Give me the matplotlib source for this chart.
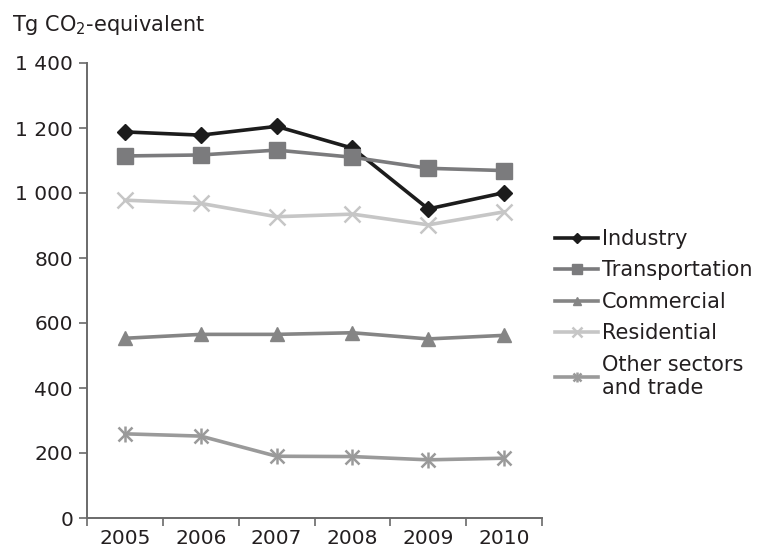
import matplotlib
matplotlib.use("Agg")
import matplotlib.pyplot as plt
import numpy as np

years = ["2005", "2006", "2007", "2008", "2009", "2010"]
industry = [1188, 1178, 1205, 1138, 951, 1001]
transportation = [1114, 1117, 1132, 1110, 1076, 1069]
commercial = [553, 565, 565, 570, 551, 562]
residential = [978, 968, 927, 935, 902, 942]
other = [259, 252, 190, 189, 179, 184]
yticks = [0, 200, 400, 600, 800, 1000, 1200, 1400]
ytick_labels = ["0", "200", "400", "600", "800", "1 000", "1 200", "1 400"]

text_color = "#231f20"
plt.rcParams["font.family"] = ["DejaVu Sans"]
plt.rcParams["mathtext.fontset"] = "dejavusans"

fig = plt.figure(figsize=(7.66, 5.49), dpi=100)
ax = fig.add_axes([87/766, 1-518/549, (542-87)/766, (518-63)/549])

x = np.arange(len(years)) + 0.5
series = [
    ("Industry", industry, "#1c1c1c", "D", 8, 1),
    ("Transportation", transportation, "#7b7b7d", "s", 11, 1),
    ("Commercial", commercial, "#858585", "^", 10, 1),
    ("Residential", residential, "#c6c6c6", "x", 11, 1.8),
    ("Other sectors\nand trade", other, "#9a9a9a", "x", 10, 1.8),
]
handles = []
labels = []
for name, vals, col, mk, ms, mew in series:
    h, = ax.plot(x, vals, color=col, lw=2.6, marker=mk, markersize=ms,
                 markerfacecolor=col, markeredgecolor=col, markeredgewidth=mew)
    if name.startswith("Other"):
        h2, = ax.plot(x, vals, linestyle="none", marker="|", markersize=12,
                      markeredgecolor=col, markeredgewidth=1.8)
        handles.append((h, h2))
    else:
        handles.append(h)
    labels.append(name)

ax.set_xlim(0, 6)
ax.set_ylim(0, 1400)
ax.set_yticks(yticks)
ax.set_yticklabels(ytick_labels)
ax.set_xticks(np.arange(0, 7))
ax.set_xticklabels([])
ax.set_xticks(x, minor=True)
ax.set_xticklabels(years, minor=True)
ax.tick_params(axis="x", which="minor", length=0, pad=8, labelsize=14.5, labelcolor=text_color)
ax.tick_params(axis="x", which="major", length=6, width=1.2, color="#6a6a6a", direction="out")
ax.tick_params(axis="y", length=6, width=1.2, color="#6a6a6a", labelsize=14.5, labelcolor=text_color, pad=4)

for s in ["top", "right"]:
    ax.spines[s].set_visible(False)
for s in ["left", "bottom"]:
    ax.spines[s].set_color("#6a6a6a")
    ax.spines[s].set_linewidth(1.4)

fig.text(12/766, 1-25/549, "Tg CO$_2$-equivalent", fontsize=15, color=text_color,
         va="center", ha="left")

leg = ax.legend(handles=handles, labels=labels, loc="upper left",
                bbox_to_anchor=(555/766, 1-229/549),
                bbox_transform=fig.transFigure, frameon=False, fontsize=15,
                handlelength=2.07, handletextpad=0.2, labelspacing=0.55, markerscale=0.6,
                borderaxespad=0, borderpad=0)
for t in leg.get_texts():
    t.set_color(text_color)

fig.savefig("out.png", dpi=100)
